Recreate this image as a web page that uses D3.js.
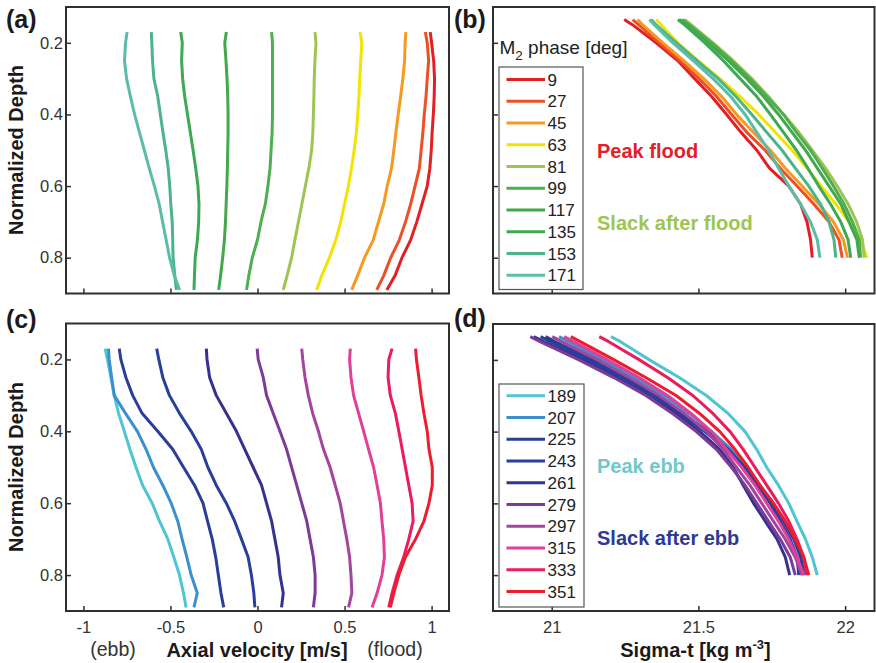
<!DOCTYPE html>
<html>
<head>
<meta charset="utf-8">
<script src="https://cdn.jsdelivr.net/npm/d3@7"></script>
<style>
  html, body { margin: 0; padding: 0; background: #fff; }
  svg { display: block; font-family: "Liberation Sans", Arial, Helvetica, sans-serif; }
</style>
</head>
<body>
<svg id="chart" width="876" height="663"></svg>
<script>
// Normalized depth levels of the profiles
const depthVel = [0.17, 0.2, 0.25, 0.3, 0.35, 0.4, 0.45, 0.5, 0.55, 0.6, 0.65, 0.7, 0.75, 0.8, 0.85, 0.89];
const depthSigma = [0.135, 0.15, 0.2, 0.25, 0.3, 0.35, 0.4, 0.45, 0.5, 0.55, 0.6, 0.65, 0.7, 0.75, 0.8];

// M2 phase of each profile [deg]
const phasesFlood = [9, 27, 45, 63, 81, 99, 117, 135, 153, 171];
const phasesEbb = [189, 207, 225, 243, 261, 279, 297, 315, 333, 351];
const colorsFlood = ["#e31e24", "#ef4f25", "#f7981f", "#f3e300", "#9cc651", "#4fae4f", "#43a84b", "#3ea955", "#4bb48a", "#5cbcaa"];
const colorsEbb = ["#4fc5d3", "#3a90cf", "#2b3e97", "#27409b", "#35328f", "#7c3b98", "#a3459c", "#e0409a", "#ec1b5b", "#ee1c2e"];

// Axial velocity [m/s], one row per phase (flood half of the tide)
const velocityFlood = [
  [0.992, 1.000, 1.012, 1.017, 1.015, 1.010, 1.003, 0.998, 0.990, 0.975, 0.945, 0.915, 0.880, 0.830, 0.790, 0.743],
  [0.964, 0.975, 0.983, 0.975, 0.968, 0.958, 0.950, 0.940, 0.930, 0.905, 0.880, 0.850, 0.815, 0.765, 0.725, 0.685],
  [0.852, 0.848, 0.845, 0.835, 0.822, 0.808, 0.795, 0.783, 0.770, 0.745, 0.725, 0.695, 0.665, 0.615, 0.575, 0.541],
  [0.589, 0.599, 0.593, 0.587, 0.583, 0.576, 0.568, 0.555, 0.540, 0.522, 0.500, 0.478, 0.450, 0.413, 0.369, 0.340],
  [0.330, 0.336, 0.330, 0.326, 0.324, 0.321, 0.318, 0.311, 0.295, 0.275, 0.255, 0.235, 0.215, 0.196, 0.170, 0.148],
  [0.081, 0.086, 0.086, 0.086, 0.086, 0.086, 0.084, 0.078, 0.072, 0.060, 0.045, 0.020, 0.000, -0.030, -0.050, -0.063],
  [-0.179, -0.188, -0.181, -0.175, -0.171, -0.169, -0.169, -0.171, -0.173, -0.176, -0.180, -0.184, -0.190, -0.200, -0.212, -0.223],
  [-0.441, -0.432, -0.436, -0.430, -0.418, -0.402, -0.386, -0.370, -0.355, -0.342, -0.336, -0.338, -0.345, -0.358, -0.362, -0.365],
  [-0.610, -0.607, -0.603, -0.595, -0.573, -0.558, -0.543, -0.527, -0.513, -0.504, -0.498, -0.490, -0.487, -0.485, -0.475, -0.466],
  [-0.749, -0.758, -0.764, -0.752, -0.730, -0.706, -0.678, -0.650, -0.622, -0.592, -0.565, -0.545, -0.525, -0.505, -0.478, -0.447]
];

// Axial velocity [m/s], ebb half of the tide
const velocityEbb = [
  [-0.875, -0.862, -0.842, -0.823, -0.798, -0.765, -0.733, -0.698, -0.660, -0.605, -0.563, -0.515, -0.481, -0.448, -0.425, -0.410],
  [-0.856, -0.852, -0.838, -0.823, -0.758, -0.690, -0.640, -0.598, -0.544, -0.496, -0.458, -0.433, -0.406, -0.381, -0.346, -0.365],
  [-0.794, -0.785, -0.756, -0.717, -0.663, -0.573, -0.487, -0.425, -0.362, -0.313, -0.287, -0.260, -0.240, -0.225, -0.210, -0.194],
  [-0.579, -0.567, -0.544, -0.506, -0.448, -0.381, -0.323, -0.285, -0.237, -0.179, -0.131, -0.092, -0.054, -0.035, -0.021, -0.015],
  [-0.294, -0.290, -0.275, -0.237, -0.179, -0.121, -0.073, -0.025, 0.023, 0.052, 0.081, 0.100, 0.119, 0.129, 0.148, 0.138],
  [-0.002, 0.004, 0.033, 0.052, 0.090, 0.129, 0.167, 0.196, 0.225, 0.254, 0.283, 0.302, 0.321, 0.331, 0.331, 0.321],
  [0.254, 0.260, 0.273, 0.292, 0.317, 0.350, 0.379, 0.417, 0.446, 0.475, 0.494, 0.513, 0.529, 0.537, 0.542, 0.523],
  [0.533, 0.529, 0.537, 0.552, 0.581, 0.610, 0.638, 0.667, 0.687, 0.706, 0.715, 0.725, 0.729, 0.715, 0.687, 0.658],
  [0.773, 0.754, 0.750, 0.763, 0.792, 0.812, 0.831, 0.850, 0.869, 0.888, 0.894, 0.869, 0.840, 0.802, 0.773, 0.754],
  [0.908, 0.913, 0.927, 0.940, 0.956, 0.975, 0.985, 1.004, 1.004, 0.985, 0.956, 0.908, 0.850, 0.812, 0.783, 0.763]
];

// Sigma-t [kg m-3], flood half of the tide
const sigmaFlood = [
  [21.247, 21.276, 21.356, 21.430, 21.487, 21.545, 21.596, 21.645, 21.699, 21.742, 21.808, 21.848, 21.870, 21.882, 21.888],
  [21.276, 21.297, 21.367, 21.438, 21.502, 21.562, 21.613, 21.665, 21.727, 21.779, 21.836, 21.893, 21.945, 21.979, 21.990],
  [21.293, 21.310, 21.379, 21.450, 21.518, 21.579, 21.630, 21.687, 21.745, 21.796, 21.853, 21.910, 21.960, 21.994, 22.008],
  [21.356, 21.373, 21.430, 21.499, 21.573, 21.642, 21.705, 21.762, 21.819, 21.870, 21.918, 21.968, 22.013, 22.053, 22.074],
  [21.453, 21.476, 21.550, 21.619, 21.682, 21.739, 21.790, 21.842, 21.888, 21.933, 21.973, 22.010, 22.039, 22.059, 22.065],
  [21.445, 21.470, 21.545, 21.613, 21.676, 21.733, 21.790, 21.834, 21.882, 21.922, 21.960, 21.996, 22.025, 22.048, 22.053],
  [21.436, 21.461, 21.533, 21.602, 21.665, 21.722, 21.773, 21.819, 21.865, 21.905, 21.945, 21.985, 22.013, 22.040, 22.048],
  [21.430, 21.453, 21.522, 21.585, 21.642, 21.699, 21.745, 21.790, 21.834, 21.873, 21.910, 21.950, 21.985, 22.010, 22.019],
  [21.339, 21.356, 21.425, 21.495, 21.567, 21.628, 21.682, 21.733, 21.785, 21.830, 21.876, 21.916, 21.945, 21.962, 21.968],
  [21.333, 21.350, 21.413, 21.482, 21.550, 21.610, 21.659, 21.699, 21.739, 21.773, 21.808, 21.848, 21.882, 21.905, 21.914]
];

// Sigma-t [kg m-3], ebb half of the tide
const sigmaEbb = [
  [21.202, 21.236, 21.333, 21.436, 21.528, 21.602, 21.659, 21.699, 21.733, 21.773, 21.808, 21.836, 21.865, 21.888, 21.905],
  [21.025, 21.059, 21.173, 21.282, 21.385, 21.470, 21.545, 21.613, 21.665, 21.710, 21.756, 21.796, 21.830, 21.853, 21.865],
  [20.979, 21.013, 21.139, 21.253, 21.356, 21.447, 21.533, 21.602, 21.659, 21.705, 21.750, 21.790, 21.825, 21.848, 21.859],
  [20.962, 20.996, 21.122, 21.236, 21.345, 21.436, 21.522, 21.596, 21.653, 21.699, 21.745, 21.779, 21.813, 21.836, 21.842],
  [20.939, 20.973, 21.105, 21.219, 21.327, 21.425, 21.505, 21.573, 21.619, 21.653, 21.688, 21.728, 21.768, 21.796, 21.811],
  [20.927, 20.962, 21.093, 21.213, 21.322, 21.413, 21.493, 21.562, 21.613, 21.659, 21.699, 21.739, 21.779, 21.813, 21.830],
  [21.002, 21.036, 21.156, 21.265, 21.367, 21.453, 21.528, 21.585, 21.630, 21.676, 21.716, 21.756, 21.796, 21.830, 21.853],
  [21.042, 21.076, 21.190, 21.299, 21.396, 21.476, 21.545, 21.596, 21.648, 21.693, 21.733, 21.773, 21.808, 21.836, 21.859],
  [21.162, 21.196, 21.299, 21.396, 21.482, 21.550, 21.608, 21.653, 21.693, 21.733, 21.773, 21.808, 21.836, 21.859, 21.870],
  [21.065, 21.099, 21.213, 21.322, 21.425, 21.505, 21.573, 21.625, 21.670, 21.710, 21.756, 21.796, 21.830, 21.859, 21.876]
];

// Axis ticks
const velocityTicks = [-1, -0.5, 0, 0.5, 1];
const sigmaTicks = [21, 21.5, 22];
const depthTicks = [0.2, 0.4, 0.6, 0.8];

const svg = d3.select("#chart");
const frameColor = "#2f2f2f";
const tickTextColor = "#333";

// Draws one framed panel with inward ticks and returns its scales
function panel(opt) {
  const x = d3.scaleLinear().domain(opt.xDomain).range([opt.left, opt.right]);
  const y = d3.scaleLinear().domain([0.1, 0.9]).range([opt.top, opt.bottom]);
  const g = svg.append("g");

  const xAxis = d3.axisBottom(x).tickValues(opt.xTicks).tickSizeInner(-5).tickSizeOuter(0)
    .tickPadding(opt.xLabels ? 10 : 0).tickFormat(opt.xLabels ? d => String(d) : () => "");
  const gx = g.append("g").attr("transform", `translate(0,${opt.bottom})`).call(xAxis);
  gx.select(".domain").remove();
  gx.selectAll(".tick line").attr("stroke", frameColor).attr("stroke-width", 1.5);
  gx.selectAll(".tick text").attr("fill", tickTextColor).attr("font-size", 16.5)
    .attr("font-family", "Liberation Sans, Arial, sans-serif");

  const yAxis = d3.axisLeft(y).tickValues(depthTicks).tickSizeInner(-5).tickSizeOuter(0)
    .tickPadding(opt.yLabels ? 3 : 0).tickFormat(opt.yLabels ? d3.format(".1f") : () => "");
  const gy = g.append("g").attr("transform", `translate(${opt.left},0)`).call(yAxis);
  gy.select(".domain").remove();
  gy.selectAll(".tick line").attr("stroke", frameColor).attr("stroke-width", 1.5);
  gy.selectAll(".tick text").attr("fill", tickTextColor).attr("font-size", 16.5)
    .attr("font-family", "Liberation Sans, Arial, sans-serif");

  g.append("rect")
    .attr("x", opt.left).attr("y", opt.top)
    .attr("width", opt.right - opt.left).attr("height", opt.bottom - opt.top)
    .attr("fill", "none").attr("stroke", frameColor).attr("stroke-width", 2);

  return { x, y, g };
}

function profiles(p, rows, depth, colors) {
  const line = d3.line()
    .x(d => p.x(d[0]))
    .y(d => p.y(d[1]))
    .curve(d3.curveLinear);
  p.g.selectAll(null)
    .data(rows)
    .join("path")
    .attr("d", (row) => line(row.map((v, i) => [v, depth[i]])))
    .attr("fill", "none")
    .attr("stroke", (row, i) => colors[i])
    .attr("stroke-width", 3)
    .attr("stroke-linejoin", "round")
    .attr("stroke-linecap", "butt");
}

function legend(x0, y0, w, h, firstY, phases, colors) {
  const g = svg.append("g");
  g.append("rect").attr("x", x0).attr("y", y0).attr("width", w).attr("height", h)
    .attr("fill", "#fff").attr("stroke", "#555").attr("stroke-width", 1.2);
  const rowH = 21.75;
  const rows = g.selectAll(null).data(phases).join("g")
    .attr("transform", (d, i) => `translate(0,${firstY + i * rowH})`);
  rows.append("line").attr("x1", x0 + 7.5).attr("x2", x0 + 46).attr("y1", 0).attr("y2", 0)
    .attr("stroke", (d, i) => colors[i]).attr("stroke-width", 3);
  rows.append("text").attr("x", x0 + 48.5).attr("y", 0).attr("dy", "0.36em")
    .attr("font-size", 17).attr("fill", "#222").text(d => d);
}

const L = 66, R1 = 449, L2 = 493, R2 = 874.5;

const pa = panel({ left: L, right: R1, top: 7, bottom: 293.5, xDomain: [-1.1, 1.1], xTicks: velocityTicks, xLabels: false, yLabels: true });
profiles(pa, velocityFlood, depthVel, colorsFlood);

const pb = panel({ left: L2, right: R2, top: 7, bottom: 293.5, xDomain: [20.8, 22.1], xTicks: sigmaTicks, xLabels: false, yLabels: false });
profiles(pb, sigmaFlood, depthSigma, colorsFlood);

const pc = panel({ left: L, right: R1, top: 323.5, bottom: 611, xDomain: [-1.1, 1.1], xTicks: velocityTicks, xLabels: true, yLabels: true });
profiles(pc, velocityEbb, depthVel, colorsEbb);

const pd = panel({ left: L2, right: R2, top: 324, bottom: 611, xDomain: [20.8, 22.1], xTicks: sigmaTicks, xLabels: true, yLabels: false });
profiles(pd, sigmaEbb, depthSigma, colorsEbb);

// Legends
legend(499, 67, 84, 222.5, 79.5, phasesFlood, colorsFlood);
legend(499, 384, 85, 223, 395.8, phasesEbb, colorsEbb);

const title = svg.append("text").attr("x", 499.5).attr("y", 53.5).attr("font-size", 19).attr("fill", "#222");
title.append("tspan").text("M");
title.append("tspan").attr("font-size", 13.5).attr("dy", 6).text("2");
title.append("tspan").attr("dy", -6).text(" phase [deg]");

// Tidal stage annotations
const notes = [
  { text: "Peak flood", x: 597, y: 158, color: "#e3202a" },
  { text: "Slack after flood", x: 597, y: 230, color: "#9cc651" },
  { text: "Peak ebb", x: 597, y: 473, color: "#6fc9c9" },
  { text: "Slack after ebb", x: 597, y: 544.5, color: "#2e3a92" }
];
svg.selectAll(null).data(notes).join("text")
  .attr("x", d => d.x).attr("y", d => d.y)
  .attr("font-size", 20).attr("font-weight", "bold").attr("fill", d => d.color)
  .text(d => d.text);

// Panel letters
const letters = [
  { t: "(a)", x: 6, y: 28 }, { t: "(b)", x: 454, y: 28 },
  { t: "(c)", x: 6, y: 328 }, { t: "(d)", x: 454, y: 327 }
];
svg.selectAll(null).data(letters).join("text")
  .attr("x", d => d.x).attr("y", d => d.y)
  .attr("font-size", 25).attr("font-weight", "bold").attr("fill", "#1a1a1a")
  .text(d => d.t);

// Axis titles
[150, 467].forEach(cy => {
  svg.append("text").attr("transform", `translate(22.5,${cy}) rotate(-90)`)
    .attr("text-anchor", "middle").attr("font-size", 20).attr("font-weight", "bold").attr("fill", "#1a1a1a")
    .text("Normalized Depth");
});

svg.append("text").attr("x", 257).attr("y", 656.5).attr("text-anchor", "middle")
  .attr("font-size", 20).attr("font-weight", "bold").attr("fill", "#1a1a1a").text("Axial velocity [m/s]");
svg.append("text").attr("x", 113).attr("y", 655.5).attr("text-anchor", "middle")
  .attr("font-size", 19.5).attr("fill", "#333").text("(ebb)");
svg.append("text").attr("x", 395).attr("y", 655.5).attr("text-anchor", "middle")
  .attr("font-size", 19.5).attr("fill", "#333").text("(flood)");

const sig = svg.append("text").attr("x", 695.5).attr("y", 656.5).attr("text-anchor", "middle")
  .attr("font-size", 20).attr("font-weight", "bold").attr("fill", "#1a1a1a");
sig.append("tspan").text("Sigma-t [kg m");
sig.append("tspan").attr("font-size", 13).attr("dy", -8).text("-3");
sig.append("tspan").attr("dy", 8).text("]");
</script>
</body>
</html>
